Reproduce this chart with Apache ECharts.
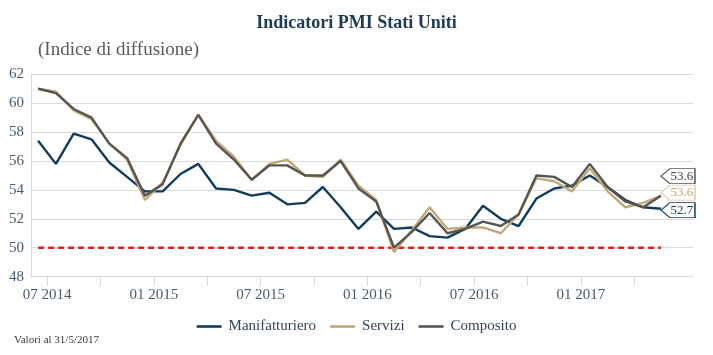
<!DOCTYPE html>
<html>
<head>
<meta charset="utf-8">
<script src="https://cdn.jsdelivr.net/npm/echarts@6/dist/echarts.min.js"></script>
<style>
  html, body { margin: 0; padding: 0; background: #ffffff; }
  #chart { width: 713px; height: 355px; }
</style>
</head>
<body>
<div id="chart"></div>
<script>
// ---- Data ----
const months = [
  '2014-06','2014-07','2014-08','2014-09','2014-10','2014-11','2014-12',
  '2015-01','2015-02','2015-03','2015-04','2015-05','2015-06','2015-07','2015-08','2015-09','2015-10','2015-11','2015-12',
  '2016-01','2016-02','2016-03','2016-04','2016-05','2016-06','2016-07','2016-08','2016-09','2016-10','2016-11','2016-12',
  '2017-01','2017-02','2017-03','2017-04','2017-05'
];
const manifatturiero = [57.4,55.8,57.9,57.5,55.9,54.9,53.9,53.9,55.1,55.8,54.1,54.0,53.6,53.8,53.0,53.1,54.2,52.8,51.3,52.5,51.3,51.4,50.8,50.7,51.3,52.9,52.0,51.5,53.4,54.1,54.3,55.0,54.2,53.3,52.8,52.7];
const servizi = [61.0,60.8,59.5,58.9,57.2,56.1,53.3,54.5,57.1,59.2,57.4,56.3,54.7,55.8,56.1,55.0,54.9,56.1,54.3,53.3,49.7,51.2,52.8,51.3,51.4,51.4,51.0,52.3,54.8,54.6,53.9,55.5,53.9,52.8,53.1,53.6];
const composito = [61.0,60.7,59.6,59.0,57.2,56.2,53.6,54.4,57.2,59.2,57.2,56.1,54.7,55.7,55.7,55.0,55.0,56.0,54.1,53.2,50.0,51.1,52.4,51.0,51.3,51.8,51.5,52.3,55.0,54.9,54.2,55.8,54.2,53.2,52.8,53.6];
const soglia = 50;
const xTickLabels = ['07 2014','01 2015','07 2015','01 2016','07 2016','01 2017'];
const yTicks = [48, 50, 52, 54, 56, 58, 60, 62];

// ---- Helpers ----
// x value of month i = start of month i; a point sits in the middle of its month
const toPoints = vals => months.map((m, i) => [i + 0.5, vals[i]]);
const labelToMonth = l => l.slice(3) + '-' + l.slice(0, 2);
const labelValues = xTickLabels.map(l => months.indexOf(labelToMonth(l)));
const tickValues = months.map((m, i) => i).filter(i => [1, 4, 7, 10].includes(+months[i].slice(5)));

const SERIF = "'Liberation Serif', 'DejaVu Serif', serif";
const C_MAN = '#113c5b';
const C_SER = '#bda97a';
const C_COM = '#59544f';

function endTag(vals, color, textColor, dy) {
  const i = vals.length - 1;
  return {
    symbol: 'path://M0,7.5 L9,0 L34,0 L34,15 L9,15 Z',
    symbolSize: [34, 15],
    symbolKeepAspect: false,
    silent: true,
    data: [{
      coord: [i + 0.5, vals[i]],
      value: vals[i],
      symbolOffset: [17, dy],
      itemStyle: { color: '#ffffff', borderColor: color, borderWidth: 1 },
      label: {
        show: true, position: 'inside', offset: [4, 0],
        formatter: p => p.value.toFixed(1),
        fontFamily: SERIF, fontSize: 13, color: textColor
      }
    }]
  };
}

function lineSeries(name, vals, color, z) {
  return {
    name, type: 'line', data: toPoints(vals), symbol: 'none', showSymbol: false,
    lineStyle: { color, width: 2.4 }, itemStyle: { color }, z, animation: false
  };
}

const sMan = lineSeries('Manifatturiero', manifatturiero, C_MAN, 3);
sMan.markPoint = endTag(manifatturiero, C_MAN, C_MAN, 1.5);
const sSer = lineSeries('Servizi', servizi, C_SER, 4);
sSer.markPoint = endTag(servizi, '#d8ccb0', C_SER, -3);
const sCom = lineSeries('Composito', composito, C_COM, 5);
sCom.markPoint = endTag(composito, C_COM, '#404040', -19.5);

const chart = echarts.init(document.getElementById('chart'), null, { renderer: 'canvas' });
chart.setOption({
  animation: false,
  backgroundColor: '#ffffff',
  title: [
    { text: 'Indicatori PMI Stati Uniti', left: 'center', top: 9,
      textStyle: { fontFamily: SERIF, fontSize: 18, fontWeight: 'bold', color: '#1d3a56' } },
    { text: '(Indice di diffusione)', left: 33, top: 36,
      textStyle: { fontFamily: SERIF, fontSize: 19, fontWeight: 'normal', color: '#5a5a5a' } },
    { text: 'Valori al 31/5/2017', left: 9, top: 330,
      textStyle: { fontFamily: SERIF, fontSize: 11, fontWeight: 'normal', color: '#3a3a3a' } }
  ],
  legend: {
    data: ['Manifatturiero', 'Servizi', 'Composito'],
    left: 'center', top: 314,
    icon: 'rect', itemWidth: 25, itemHeight: 2.6, itemGap: 14,
    textStyle: { fontFamily: SERIF, fontSize: 15, color: '#34455a', padding: [0, 0, 0, 2] }
  },
  grid: { left: 31, right: 20, top: 74.3, bottom: 78.4, containLabel: false },
  xAxis: {
    type: 'value', min: 0.1, max: 37.3,
    axisLine: { show: true, lineStyle: { color: '#d9d9d9', width: 1 } },
    axisTick: { show: true, customValues: tickValues, length: 9, inside: false, lineStyle: { color: '#d9d9d9' } },
    axisLabel: {
      customValues: labelValues, margin: 11,
      formatter: v => xTickLabels[labelValues.indexOf(Math.round(v))] || '',
      fontFamily: SERIF, fontSize: 15, color: '#4b5b6c'
    },
    splitLine: { show: false }
  },
  yAxis: {
    type: 'value', min: yTicks[0], max: yTicks[yTicks.length - 1], interval: 2,
    axisLine: { show: true, lineStyle: { color: '#d9d9d9', width: 1 } },
    axisTick: { show: false },
    axisLabel: { margin: 7, fontFamily: SERIF, fontSize: 15, color: '#4b5b6c' },
    splitLine: { show: true, lineStyle: { color: '#d9d9d9', width: 1 } }
  },
  series: [
    {
      name: 'Soglia', type: 'line', data: toPoints(months.map(() => soglia)),
      symbol: 'none', showSymbol: false, z: 2, silent: true,
      lineStyle: { color: '#e3201b', width: 2.5, type: [6, 4] }
    },
    sMan, sSer, sCom
  ]
});
</script>
</body>
</html>
